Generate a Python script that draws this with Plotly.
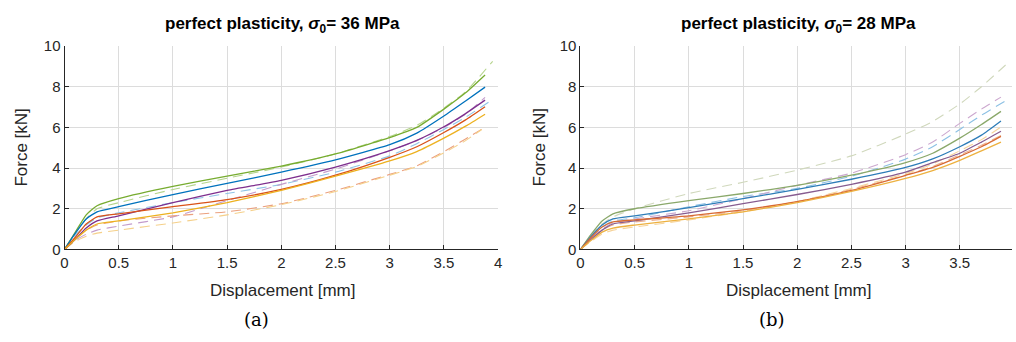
import plotly.graph_objects as go

# ---------------- data ----------------
x_pts = [0, 0.1, 0.2, 0.3, 0.5, 1.0, 1.5, 2.0, 2.5, 3.0, 3.25, 3.5, 3.7]

# panel (a) sigma0 = 36 MPa : solid (simulation) curves, end x = 3.88
a_x_end = 3.88
a_green  = [0, 0.85, 1.7, 2.15, 2.5, 3.1, 3.6, 4.1, 4.7, 5.5, 6.0, 6.9, 7.7, 8.58]
a_blue   = [0, 0.8, 1.5, 1.85, 2.1, 2.7, 3.25, 3.8, 4.4, 5.15, 5.72, 6.56, 7.3, 7.98]
a_purple = [0, 0.5, 1.05, 1.4, 1.65, 2.3, 2.9, 3.4, 4.05, 4.86, 5.36, 6.03, 6.68, 7.34]
a_red    = [0, 0.6, 1.25, 1.6, 1.75, 2.1, 2.45, 2.95, 3.65, 4.53, 5.05, 5.75, 6.37, 7.02]
a_yellow = [0, 0.5, 0.95, 1.25, 1.4, 1.8, 2.3, 2.9, 3.6, 4.35, 4.81, 5.47, 6.06, 6.65]
# panel (a) dashed (experimental) curves: values and end points
a_green_d  = [0, 0.8, 1.5, 2.0, 2.3, 2.95, 3.5, 4.05, 4.7, 5.55, 6.1, 6.95, 7.75, 9.25]
a_blue_d   = [0, 0.7, 1.2, 1.55, 1.8, 2.3, 2.75, 3.2, 3.8, 4.6, 5.2, 5.9, 6.5, 7.3]
a_purple_d = [0, 0.45, 0.75, 0.95, 1.15, 1.6, 2.4, 3.2, 3.95, 4.85, 5.35, 6.0, 6.65, 7.48]
a_red_d    = [0, 0.55, 0.95, 1.2, 1.4, 1.65, 1.85, 2.25, 2.9, 3.69, 4.11, 4.81, 5.43, 5.98]
a_yellow_d = [0, 0.4, 0.65, 0.8, 0.95, 1.3, 1.7, 2.2, 2.85, 3.65, 4.08, 4.75, 5.35, 5.9]
a_dash_end = [3.95, 3.93, 3.88, 3.87, 3.85]

# panel (b) sigma0 = 28 MPa
b_x_end = 3.88
b_green  = [0, 0.75, 1.4, 1.75, 2.0, 2.4, 2.75, 3.15, 3.65, 4.27, 4.73, 5.47, 6.14, 6.79]
b_blue   = [0, 0.65, 1.2, 1.5, 1.65, 2.05, 2.5, 2.95, 3.45, 4.03, 4.45, 5.05, 5.62, 6.32]
b_purple = [0, 0.5, 0.95, 1.25, 1.4, 1.8, 2.25, 2.7, 3.2, 3.8, 4.27, 4.73, 5.28, 5.81]
b_red    = [0, 0.6, 1.1, 1.35, 1.45, 1.65, 1.95, 2.35, 2.9, 3.64, 4.03, 4.58, 5.05, 5.56]
b_yellow = [0, 0.45, 0.85, 1.05, 1.2, 1.5, 1.85, 2.3, 2.85, 3.49, 3.88, 4.38, 4.85, 5.28]
b_green_d  = [0, 0.7, 1.25, 1.6, 2.0, 2.75, 3.3, 3.9, 4.6, 5.67, 6.29, 7.15, 8.0, 9.25]
b_blue_d   = [0, 0.6, 1.1, 1.4, 1.55, 2.1, 2.6, 3.0, 3.6, 4.44, 5.05, 5.9, 6.6, 7.3]
b_purple_d = [0, 0.55, 1.0, 1.3, 1.5, 1.9, 2.5, 3.15, 3.75, 4.66, 5.28, 6.2, 6.9, 7.49]
b_red_d    = [0, 0.5, 0.95, 1.2, 1.35, 1.6, 1.9, 2.35, 2.95, 3.66, 4.08, 4.65, 5.12, 5.6]
b_yellow_d = [0, 0.4, 0.75, 0.95, 1.1, 1.45, 1.85, 2.35, 3.0, 3.73, 4.2, 4.85, 5.4, 5.98]
b_dash_end = [3.96, 3.92, 3.88, 3.88, 3.87]

x_ticks = [0, 0.5, 1, 1.5, 2, 2.5, 3, 3.5, 4]
x_tick_text = ["0", "0.5", "1", "1.5", "2", "2.5", "3", "3.5", "4"]
y_ticks = [0, 2, 4, 6, 8, 10]

a_solid_colors = ["#77AC30", "#0072BD", "#7E2F8E", "#D95319", "#EDB120"]
a_dash_colors  = ["#B5D48C", "#8EC3E6", "#C39BCB", "#EBA07E", "#F5D08A"]
b_solid_colors = ["#8AA86A", "#2E7DB8", "#875C8F", "#D86A33", "#EDB140"]
b_dash_colors  = ["#D0D8BC", "#8CC0E4", "#CCA8CF", "#EDB08E", "#F6D39A"]

fig = go.Figure()

def add_panel(solids, dashes, s_cols, d_cols, x_end, d_ends, xa, ya):
    for ys, end, c in zip(dashes, d_ends, d_cols):
        fig.add_trace(go.Scatter(x=x_pts + [end], y=ys, mode="lines",
                                 line=dict(color=c, width=1.1, dash="10px,6px", shape="spline", smoothing=0.5),
                                 xaxis=xa, yaxis=ya, showlegend=False, hoverinfo="skip"))
    for ys, c in zip(solids, s_cols):
        fig.add_trace(go.Scatter(x=x_pts + [x_end], y=ys, mode="lines",
                                 line=dict(color=c, width=1.3, shape="spline", smoothing=0.5),
                                 xaxis=xa, yaxis=ya, showlegend=False, hoverinfo="skip"))

add_panel([a_green, a_blue, a_purple, a_red, a_yellow],
          [a_green_d, a_blue_d, a_purple_d, a_red_d, a_yellow_d],
          a_solid_colors, a_dash_colors, a_x_end, a_dash_end, "x", "y")
add_panel([b_green, b_blue, b_purple, b_red, b_yellow],
          [b_green_d, b_blue_d, b_purple_d, b_red_d, b_yellow_d],
          b_solid_colors, b_dash_colors, b_x_end, b_dash_end, "x2", "y2")

W, H = 1016, 342
font_sans = "Liberation Sans, Arial, sans-serif"

def xaxis_cfg(dom, rng, anchor):
    return dict(domain=dom, range=rng, anchor=anchor, tickvals=x_ticks, ticktext=x_tick_text,
                showgrid=True, gridcolor="#DCDCDC", gridwidth=1, zeroline=False,
                showline=True, linecolor="#262626", linewidth=1,
                ticks="inside", ticklen=4, tickcolor="#262626",
                tickfont=dict(family=font_sans, size=15, color="#262626"))

def yaxis_cfg(dom, anchor):
    return dict(domain=dom, range=[0, 10], anchor=anchor, tickvals=y_ticks,
                showgrid=True, gridcolor="#DCDCDC", gridwidth=1, zeroline=False,
                showline=True, linecolor="#262626", linewidth=1,
                ticks="inside", ticklen=4, tickcolor="#262626",
                tickfont=dict(family=font_sans, size=15, color="#262626"))

ydom = [1 - 253 / H, 1 - 39 / H]
scale = (498 - 61) / 4.0
fig.update_layout(
    width=W, height=H, margin=dict(l=0, r=0, t=0, b=0),
    paper_bgcolor="white", plot_bgcolor="white",
    xaxis=xaxis_cfg([61 / W, 498 / W], [0, 4], "y"),
    yaxis=yaxis_cfg(ydom, "x"),
    xaxis2=xaxis_cfg([581 / W, 1.0], [0, (W - 581) / scale], "y2"),
    yaxis2=yaxis_cfg(ydom, "x2"),
)

anns = []
for cx, sig in [(281, "36"), (801, "28")]:
    anns.append(dict(x=cx / W, y=1 - 17 / H, xref="paper", yref="paper", showarrow=False,
                     xanchor="center", yanchor="middle",
                     text="<b>perfect plasticity, <i>σ</i><sub>0</sub>= " + sig + " MPa</b>",
                     font=dict(family=font_sans, size=17, color="black")))
for cx, cap in [(254, "(a)"), (774, "(b)")]:
    anns.append(dict(x=cx / W, y=1 - 327 / H, xref="paper", yref="paper", showarrow=False,
                     xanchor="center", yanchor="middle", text=cap,
                     font=dict(family="DejaVu Serif, serif", size=18, color="black")))
for ax_x in [18, 540]:
    anns.append(dict(x=ax_x / W, y=1 - 146 / H, xref="paper", yref="paper", showarrow=False,
                     xanchor="center", yanchor="middle", text="Force [kN]", textangle=-90,
                     font=dict(family=font_sans, size=17, color="#262626")))
for cx in [281, 801]:
    anns.append(dict(x=cx / W, y=1 - 296 / H, xref="paper", yref="paper", showarrow=False,
                     xanchor="center", yanchor="middle", text="Displacement [mm]",
                     font=dict(family=font_sans, size=17, color="#262626")))
fig.update_layout(annotations=anns)

fig.write_html("out.html")
